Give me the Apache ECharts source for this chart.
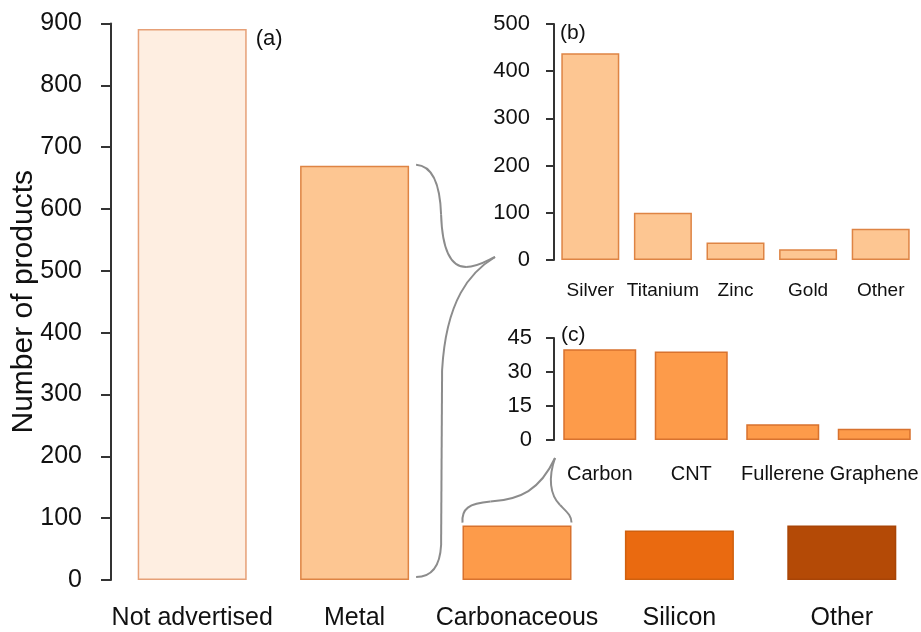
<!DOCTYPE html>
<html>
<head>
<meta charset="utf-8">
<script src="https://cdn.jsdelivr.net/npm/echarts@6/dist/echarts.min.js"></script>
<style>
html,body{margin:0;padding:0;background:#fff;}
#c{width:921px;height:632px;}
</style>
</head>
<body>
<div id="c"></div>
<script>
// ---- data ----
const mainCats = ['Not advertised', 'Metal', 'Carbonaceous', 'Silicon', 'Other'];
const mainVals = [891, 670, 88, 80, 88];
const metalCats = ['Silver', 'Titanium', 'Zinc', 'Gold', 'Other'];
const metalVals = [438, 100, 37, 23, 66];
const carbCats = ['Carbon', 'CNT', 'Fullerene', 'Graphene'];
const carbVals = [40, 39, 7, 5];
const panelLabels = ['(a)', '(b)', '(c)'];

// ---- styles ----
const FONT = 'Liberation Sans, Arial, Helvetica, sans-serif';
const mainColors = ['#FEEEE1', '#FDC692', '#FD9B4A', '#EA6A10', '#B44A06'];
const mainBorders = ['#E6A077', '#DE8444', '#D8722E', '#D0600E', '#A84406'];
const metalColor = '#FDC692', metalBorder = '#DE8444';
const carbColor = '#FD9B4A', carbBorder = '#D8722E';
const MAIN_BW = 109, METAL_BW = 58, CARB_BW = 73;
const axisCol = '#333';

function yAx(grid, max, interval, fs, margin, tickLen, lw) {
  return {
    type: 'value', gridIndex: grid, min: 0, max: max, interval: interval,
    splitLine: {show: false},
    axisLine: {show: true, lineStyle: {color: axisCol, width: lw}},
    axisTick: {show: true, length: tickLen, lineStyle: {color: axisCol, width: lw}},
    axisLabel: {fontFamily: FONT, fontSize: fs, color: '#111', margin: margin}
  };
}
function xAx(grid, cats, fs, margin) {
  return {
    type: 'category', gridIndex: grid, data: cats,
    axisLine: {show: false}, axisTick: {show: false},
    axisLabel: {fontFamily: FONT, fontSize: fs, color: '#111', margin: margin, interval: 0, hideOverlap: false}
  };
}

const option = {
  animation: false,
  backgroundColor: '#fff',
  grid: [
    {left: 111, top: 23.5, width: 812, height: 556.5, containLabel: false, outerBoundsMode: 'none'},
    {left: 554, top: 24, width: 363, height: 236, containLabel: false, outerBoundsMode: 'none'},
    {left: 554, top: 338, width: 366, height: 102, containLabel: false, outerBoundsMode: 'none'}
  ],
  xAxis: [
    xAx(0, mainCats, 25, 26),
    xAx(1, metalCats, 19, 21),
    xAx(2, carbCats, 20, 24)
  ],
  yAxis: [
    Object.assign(yAx(0, 900, 100, 25, 29, 10, 2), {
      name: 'Number of products', nameLocation: 'middle', nameGap: 72, nameMoveOverlap: false,
      nameTextStyle: {fontFamily: FONT, fontSize: 30, color: '#111'}
    }),
    yAx(1, 500, 100, 22, 24, 8, 2),
    yAx(2, 45, 15, 22, 22, 8, 2)
  ],
  series: [
    {
      type: 'bar', xAxisIndex: 0, yAxisIndex: 0, barWidth: MAIN_BW,
      data: mainVals.map((v, i) => ({value: v, itemStyle: {color: mainColors[i], borderColor: mainBorders[i], borderWidth: 1.5}}))
    },
    {
      type: 'bar', xAxisIndex: 1, yAxisIndex: 1, barWidth: METAL_BW,
      itemStyle: {color: metalColor, borderColor: metalBorder, borderWidth: 1.5},
      data: metalVals
    },
    {
      type: 'bar', xAxisIndex: 2, yAxisIndex: 2, barWidth: CARB_BW,
      itemStyle: {color: carbColor, borderColor: carbBorder, borderWidth: 1.5},
      data: carbVals
    }
  ]
};

const chart = echarts.init(document.getElementById('c'));
chart.setOption(option);

// ---- braces & panel labels, positioned from the axes ----
const p = (g, v) => chart.convertToPixel({xAxisIndex: g, yAxisIndex: g}, v);
const braceStyle = {stroke: '#8c8c8c', lineWidth: 2, fill: null};
function bez(p0, c1, c2, p1) {
  return {type: 'bezierCurve', z: 10, silent: true, style: braceStyle,
    shape: {x1: p0[0], y1: p0[1], cpx1: c1[0], cpy1: c1[1], cpx2: c2[0], cpy2: c2[1], x2: p1[0], y2: p1[1]}};
}
function seg(p0, p1) {
  return {type: 'line', z: 10, silent: true, style: braceStyle,
    shape: {x1: p0[0], y1: p0[1], x2: p1[0], y2: p1[1]}};
}

// brace 1: from Metal bar to panel (b)
const [mx, mt] = p(0, [1, mainVals[1]]);
const m0 = p(0, [1, 0])[1];
const a = mx + MAIN_BW / 2 + 7, t = mt - 1, b = m0 - 3;
const bAxisX = p(1, [0, 0])[0] - (p(1, [1, 0])[0] - p(1, [0, 0])[0]) / 2;
const tipX = bAxisX - 59, tipY = p(1, [0, 0])[1] - 3;
const brace1 = [
  bez([a, t], [a + 16, t + 1], [a + 24, t + 20], [a + 25, t + 50]),
  bez([a + 25, t + 50], [a + 26, tipY - 12], [a + 32, tipY + 10], [a + 50, tipY + 10]),
  bez([a + 50, tipY + 10], [a + 62, tipY + 10], [tipX - 7, tipY + 3], [tipX, tipY]),
  bez([tipX, tipY], [a + 54, tipY + 15], [a + 30, tipY + 43], [a + 26, tipY + 113]),
  seg([a + 26, tipY + 113], [a + 25, b - 32]),
  bez([a + 25, b - 32], [a + 24, b - 12], [a + 16, b], [a, b])
];

// brace 2: from Carbonaceous bar to panel (c)
const [cx, ct] = p(0, [2, mainVals[2]]);
const cl = cx - MAIN_BW / 2, cr = cx + MAIN_BW / 2, cy = ct - 3;
const cAxisX = p(2, [0, 0])[0] - (p(2, [1, 0])[0] - p(2, [0, 0])[0]) / 2;
const t2x = cAxisX + 1, t2y = p(2, [0, 0])[1] + 18;
const brace2 = [
  bez([cl, cy], [cl - 1, cy - 14], [cl + 6, cy - 19], [cl + 28, cy - 21]),
  bez([cl + 28, cy - 21], [cl + 58, cy - 23], [t2x - 15, t2y + 32], [t2x, t2y]),
  bez([t2x, t2y], [t2x - 7, t2y + 20], [t2x - 5, t2y + 37], [t2x + 5, t2y + 47]),
  bez([t2x + 5, t2y + 47], [cr - 4, cy - 10], [cr, cy - 7], [cr, cy])
];

const labelPos = [
  [p(0, [0, 0])[0] + MAIN_BW / 2 + 9, p(0, [0, mainVals[0]])[1] + 10, 22],
  [bAxisX + 6, 33, 21],
  [cAxisX + 7, p(2, [0, 45])[1] - 3, 21]
];

chart.setOption({
  graphic: brace1.concat(brace2).concat(panelLabels.map((s, i) => ({
    type: 'text', x: labelPos[i][0], y: labelPos[i][1], z: 10, silent: true,
    style: {text: s, font: labelPos[i][2] + 'px ' + FONT, fill: '#111', verticalAlign: 'middle', textVerticalAlign: 'middle'}
  })))
});
</script>
</body>
</html>
